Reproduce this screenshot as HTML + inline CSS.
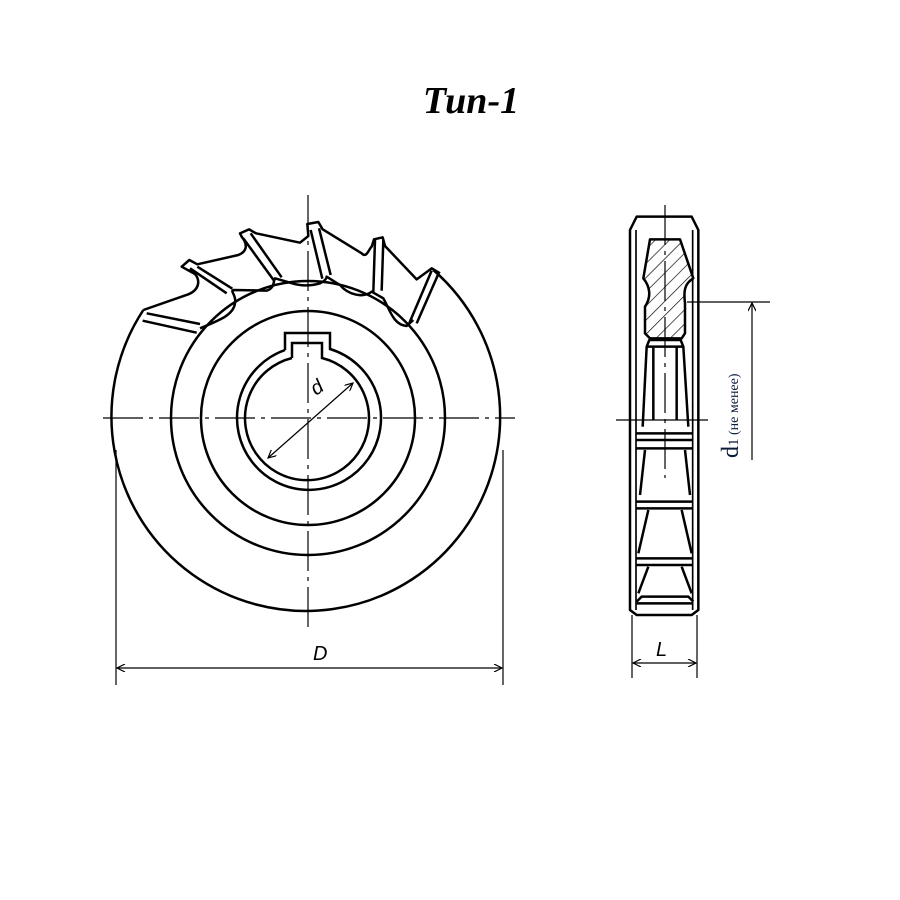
<!DOCTYPE html>
<html><head><meta charset="utf-8"><style>
html,body{margin:0;padding:0;background:#fff;width:900px;height:900px;overflow:hidden}
svg{display:block}
</style></head><body>
<svg width="900" height="900" viewBox="0 0 900 900" xmlns="http://www.w3.org/2000/svg">
<defs>
<marker id="ar" viewBox="0 0 10 10" refX="10" refY="5" markerWidth="14" markerHeight="8" markerUnits="userSpaceOnUse" orient="auto-start-reverse">
<path d="M0,0 L10,5 L0,10" fill="none" stroke="#000" stroke-width="1.5"/>
</marker>
<pattern id="hatch" patternUnits="userSpaceOnUse" width="30" height="30" patternTransform="rotate(45)">
<line x1="0" y1="0" x2="0" y2="30" stroke="#000" stroke-width="4"/>
</pattern>
</defs>
<text x="471" y="113" text-anchor="middle" font-family="Liberation Serif, serif" font-style="italic" font-weight="bold" font-size="38">Тип-1</text>

<g transform="translate(100,200) scale(0.33333)" fill="none" stroke="#000" stroke-width="7.5" stroke-linejoin="round">
<path d="M1000,210 A583,583 0 1 1 130,330"/>
<path d="M130,330 L265,283 C300,268 300,240 285,222 L245,200 L268,180 L292,193 L415,165 C440,155 445,135 425,110 L420,100 L447,88 L468,100 L600,128 L625,108 L622,72 L655,66 L668,88 L785,160 C800,175 805,150 815,140 L822,118 L848,112 L855,138 L950,238 L995,205 L1020,220"/>
<path d="M300,385 C360,360 400,345 405,310 C410,285 390,275 400,270 L500,272 C525,265 520,240 525,235 L560,245 C590,255 620,262 660,250 C680,240 680,232 680,230 L720,255 C745,285 790,295 815,275 L850,295 C870,330 880,375 920,378 L940,360"/>
<line x1="140" y1="340" x2="300" y2="372"/><line x1="128" y1="362" x2="290" y2="398"/>
<line x1="292" y1="200" x2="397" y2="266"/><line x1="270" y1="205" x2="380" y2="280"/>
<line x1="452" y1="100" x2="545" y2="232"/><line x1="430" y1="115" x2="522" y2="242"/>
<line x1="657" y1="85" x2="692" y2="225"/><line x1="632" y1="90" x2="667" y2="236"/>
<line x1="850" y1="120" x2="845" y2="272"/><line x1="825" y1="120" x2="820" y2="276"/>
<line x1="1015" y1="222" x2="950" y2="370"/><line x1="995" y1="212" x2="925" y2="376"/>
</g>
<g fill="none" stroke="#000" stroke-width="2.5">
<circle cx="308" cy="418" r="137"/>
<circle cx="308" cy="418" r="107"/>
<path d="M285,350 L285,333 L330,333 L330,349 A72,72 0 1 1 285,350"/>
<path d="M292,358 L292,343 L322,343 L322,358 A62,62 0 1 1 292,358"/>
</g>
<g stroke="#000" stroke-width="1.2" fill="none">
<line x1="103" y1="418" x2="515" y2="418" stroke-dasharray="40,6,4,6"/>
<line x1="308" y1="195" x2="308" y2="632" stroke-dasharray="40,6,4,6"/>
<line x1="268" y1="458" x2="353" y2="383" marker-start="url(#ar)" marker-end="url(#ar)"/>
<line x1="116" y1="450" x2="116" y2="685"/>
<line x1="503" y1="450" x2="503" y2="685"/>
<line x1="117" y1="668" x2="502" y2="668" marker-start="url(#ar)" marker-end="url(#ar)"/>
</g>
<text x="316" y="396" font-family="Liberation Sans, sans-serif" font-style="italic" font-size="20" transform="rotate(-35 316 396)">d</text>
<text x="313" y="660" font-family="Liberation Sans, sans-serif" font-style="italic" font-size="20">D</text>

<g transform="translate(610,200) scale(0.33333)" fill="none" stroke="#000" stroke-width="7.5" stroke-linejoin="round">
<path d="M80,50 L245,50 L265,90 L265,1230 L245,1245 L80,1245 L60,1230 L60,90 Z"/>
<path d="M120,118 L210,118 L250,235 C225,250 220,270 225,310 L225,400 L215,415 L120,415 L105,400 L105,320 C125,290 120,260 100,235 Z" fill="url(#hatch)"/>
<line x1="78" y1="90" x2="78" y2="1230" stroke-width="5"/>
<line x1="248" y1="90" x2="248" y2="1230" stroke-width="5"/>
<path d="M118,420 L212,420 L220,440 L110,440 Z"/>
<line x1="130" y1="440" x2="130" y2="660"/><line x1="200" y1="440" x2="200" y2="660"/>
<line x1="110" y1="440" x2="98" y2="680"/><line x1="220" y1="440" x2="235" y2="680"/>
<line x1="78" y1="700" x2="248" y2="700"/><line x1="78" y1="720" x2="248" y2="720"/><line x1="78" y1="745" x2="248" y2="745"/>
<line x1="105" y1="750" x2="90" y2="885"/><line x1="225" y1="750" x2="240" y2="885"/>
<line x1="78" y1="905" x2="248" y2="905"/><line x1="78" y1="925" x2="248" y2="925"/>
<line x1="115" y1="930" x2="85" y2="1060"/><line x1="215" y1="930" x2="245" y2="1060"/>
<line x1="78" y1="1075" x2="248" y2="1075"/><line x1="78" y1="1095" x2="248" y2="1095"/>
<line x1="115" y1="1100" x2="85" y2="1180"/><line x1="215" y1="1100" x2="245" y2="1180"/>
<path d="M80,1205 L95,1190 L235,1190 L250,1205"/>
<line x1="80" y1="1210" x2="248" y2="1210"/>
</g>
<g stroke="#000" stroke-width="1.2" fill="none">
<line x1="665" y1="205" x2="665" y2="478" stroke-dasharray="40,6,4,6"/>
<line x1="616" y1="420" x2="708" y2="420"/>
<line x1="687" y1="302" x2="770" y2="302"/>
<line x1="752" y1="460" x2="752" y2="303" marker-end="url(#ar)"/>
<line x1="632" y1="615" x2="632" y2="678"/>
<line x1="697" y1="615" x2="697" y2="678"/>
<line x1="633" y1="663" x2="696" y2="663" marker-start="url(#ar)" marker-end="url(#ar)"/>
</g>
<text x="656" y="656" font-family="Liberation Sans, sans-serif" font-style="italic" font-size="20">L</text>
<text transform="translate(738,458) rotate(-90)" font-family="Liberation Serif, serif" fill="#0a1a3a"><tspan font-size="24">d</tspan><tspan font-size="15">1</tspan><tspan font-size="14"> (не менее)</tspan></text>
</svg>
</body></html>
